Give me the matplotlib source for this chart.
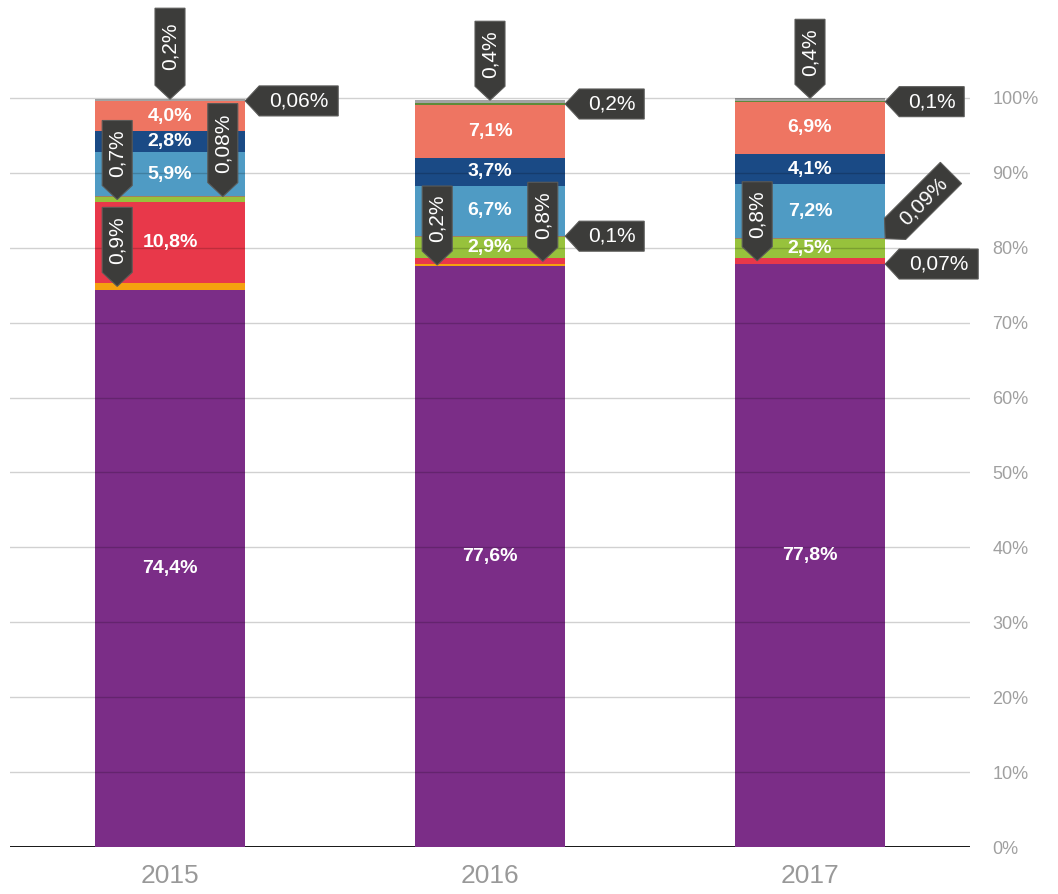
import numpy as np
import matplotlib
matplotlib.use('Agg')
import matplotlib.pyplot as plt
from matplotlib.patches import Polygon
from matplotlib.transforms import IdentityTransform

plt.rcParams['font.family'] = ['Liberation Sans', 'DejaVu Sans']

# data: share of each category per year (bottom -> top)
years = ['2015', '2016', '2017']
series_names = ['purple', 'orange', 'red', 'green', 'brown', 'ltblue', 'dkblue', 'salmon', 'dkgreen', 'gray']
purple = [74.4, 77.6, 77.8]
orange = [0.9, 0.2, 0.07]
red = [10.8, 0.8, 0.8]
green = [0.7, 2.9, 2.5]
brown = [0.08, 0.1, 0.09]
ltblue = [5.9, 6.7, 7.2]
dkblue = [2.8, 3.7, 4.1]
salmon = [4.0, 7.1, 6.9]
dkgreen = [0.06, 0.2, 0.1]
gray = [0.2, 0.4, 0.4]
yticks = [0, 10, 20, 30, 40, 50, 60, 70, 80, 90, 100]

colors = ['#7b2d87', '#f5a10f', '#e8384a', '#97c23c', '#a08060', '#4f9bc4',
          '#1a4a85', '#ee7562', '#5f8a3a', '#a3a3a3']

# which segments get an in-bar label, which get a callout
inbar = {'purple', 'red', 'green', 'ltblue', 'dkblue', 'salmon'}
# callout: (year index, series, side, angle)  side: x offset in bar units, 'edge' = right edge
callouts = [
    (0, 'gray', 0.0, 90), (0, 'dkgreen', 'edge', 0), (0, 'green', -0.165, 90),
    (0, 'brown', 0.165, 90), (0, 'orange', -0.165, 90),
    (1, 'gray', 0.0, 90), (1, 'dkgreen', 'edge', 0), (1, 'orange', -0.165, 90),
    (1, 'red', 0.165, 90), (1, 'brown', 'edge', 0),
    (2, 'gray', 0.0, 90), (2, 'dkgreen', 'edge', 0), (2, 'red', -0.165, 90),
    (2, 'brown', 'edge', 45), (2, 'orange', 'edge', 0),
]

data = np.array([purple, orange, red, green, brown, ltblue, dkblue, salmon, dkgreen, gray])

def fmt(v):
    s = ('%.2f' % v).rstrip('0')
    if s.endswith('.'):
        s = s + '0'
    if v >= 1:
        s = '%.1f' % v
    return s.replace('.', ',') + '%'

W, H = 1058, 894
fig = plt.figure(figsize=(W / 100, H / 100), dpi=100)
ax = fig.add_axes([10 / W, 47 / H, 960 / W, 847 / H])
ax.set_xlim(-0.5, 2.5)
ax.set_ylim(0, 847 / 7.49)

x = np.arange(len(years))
bw = 0.47
bottoms = np.zeros(len(years))
for vals, c in zip(data, colors):
    ax.bar(x, vals, bw, bottom=bottoms, color=c, zorder=2, linewidth=0)
    bottoms = bottoms + vals

for t in yticks[1:]:
    ax.axhline(t, color='#000000', alpha=0.18, lw=1, zorder=3)
ax.axhline(0, color='black', lw=2, zorder=1)

for s in ax.spines.values():
    s.set_visible(False)
ax.set_yticks(yticks)
ax.set_yticklabels([f'{t}%' for t in yticks], color='#a0a0a0', fontsize=13)
ax.yaxis.tick_right()
ax.tick_params(axis='y', length=0, pad=16)
ax.set_xticks(x)
ax.set_xticklabels(years, color='#999999', fontsize=19)
ax.tick_params(axis='x', length=0, pad=12)

cum = np.vstack([np.zeros(len(years)), np.cumsum(data, axis=0)])

# in-bar labels
for i, name in enumerate(series_names):
    if name not in inbar:
        continue
    for j in range(len(years)):
        v = data[i, j]
        if name in ('red', 'green') and v < 2:
            continue
        ax.text(x[j], (cum[i, j] + cum[i + 1, j]) / 2, fmt(v), color='white',
                ha='center', va='center', fontsize=14, fontweight='bold', zorder=4)

def callout(j, name, side, angle):
    i = series_names.index(name)
    v = data[i, j]
    ymid = (cum[i, j] + cum[i + 1, j]) / 2
    if side == 'edge':
        xa = x[j] + bw / 2
    else:
        xa = x[j] + side
    if name == 'gray':
        ymid = cum[i + 1, j]
    px, py = ax.transData.transform((xa, ymid))
    s = fmt(v)
    T, Wd = 14, 30
    L = 14 * len(s) + 9
    if j == 0 and name == 'gray':
        L += 12
    a = np.deg2rad(angle)
    u = np.array([np.cos(a), np.sin(a)])
    n = np.array([-np.sin(a), np.cos(a)])
    loc = [(0, 0), (T, Wd / 2), (T + L, Wd / 2), (T + L, -Wd / 2), (T, -Wd / 2)]
    verts = [(px + p * u[0] + q * n[0], py + p * u[1] + q * n[1]) for p, q in loc]
    ax.add_patch(Polygon(verts, closed=True, facecolor='#3c3c3a', edgecolor='#5a5a58',
                         lw=0.8, transform=IdentityTransform(), clip_on=False, zorder=5))
    cx = px + (T + L / 2) * u[0]
    cy = py + (T + L / 2) * u[1]
    ax.text(cx, cy, s, color='white', fontsize=15, rotation=angle, ha='center', va='center',
            rotation_mode='anchor', transform=IdentityTransform(), zorder=6, clip_on=False)

for j, name, side, angle in callouts:
    callout(j, name, side, angle)

fig.savefig('out.png', dpi=100)
